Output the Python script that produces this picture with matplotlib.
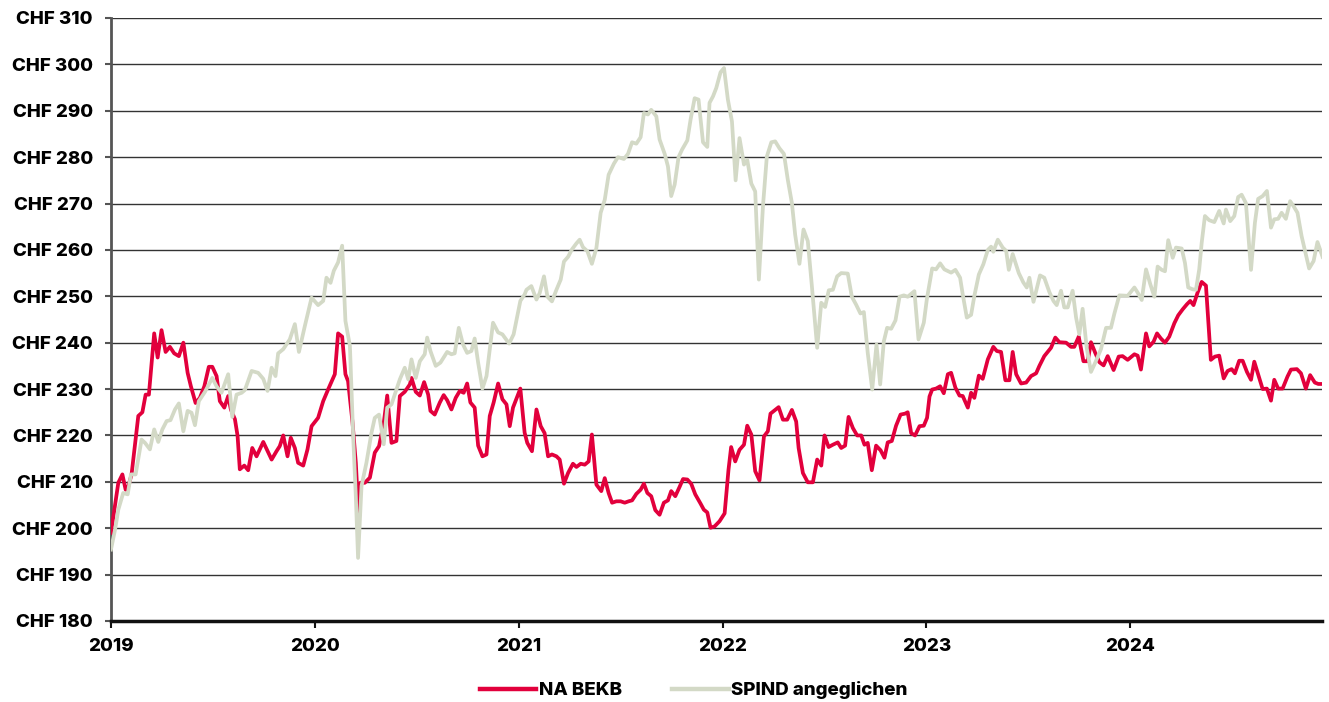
import matplotlib.pyplot as plt
import numpy as np

plt.rcParams['font.family'] = ['Inter', 'DejaVu Sans']

# NA BEKB (decimal years, CHF)
bekb_x = [2019.000, 2019.036, 2019.056, 2019.072, 2019.085, 2019.101, 2019.134, 2019.154, 2019.170, 2019.186,
          2019.212, 2019.229, 2019.248, 2019.268, 2019.289, 2019.310, 2019.333, 2019.355, 2019.376, 2019.392,
          2019.415, 2019.436, 2019.458, 2019.480, 2019.497, 2019.518, 2019.534, 2019.556, 2019.575, 2019.588,
          2019.608, 2019.621, 2019.632, 2019.654, 2019.673, 2019.693, 2019.714, 2019.747, 2019.788, 2019.812,
          2019.828, 2019.845, 2019.866, 2019.882, 2019.902, 2019.918, 2019.943, 2019.964, 2019.984, 2020.016,
          2020.041, 2020.065, 2020.098, 2020.114, 2020.134, 2020.150, 2020.163, 2020.185, 2020.201, 2020.214,
          2020.224, 2020.245, 2020.270, 2020.294, 2020.315, 2020.338, 2020.355, 2020.376, 2020.400, 2020.417,
          2020.441, 2020.466, 2020.474, 2020.495, 2020.515, 2020.536, 2020.556, 2020.567, 2020.588, 2020.613,
          2020.632, 2020.649, 2020.670, 2020.691, 2020.711, 2020.730, 2020.747, 2020.763, 2020.784, 2020.801,
          2020.822, 2020.842, 2020.858, 2020.877, 2020.899, 2020.920, 2020.940, 2020.956, 2020.972, 2021.008,
          2021.029, 2021.042, 2021.065, 2021.087, 2021.108, 2021.127, 2021.144, 2021.163, 2021.185, 2021.201,
          2021.222, 2021.242, 2021.266, 2021.283, 2021.304, 2021.324, 2021.343, 2021.359, 2021.381, 2021.405,
          2021.422, 2021.441, 2021.458, 2021.479, 2021.500, 2021.520, 2021.539, 2021.556, 2021.577, 2021.598,
          2021.614, 2021.631, 2021.650, 2021.670, 2021.691, 2021.712, 2021.732, 2021.748, 2021.768, 2021.789,
          2021.806, 2021.827, 2021.846, 2021.866, 2021.892, 2021.908, 2021.925, 2021.941, 2021.961, 2021.985,
          2022.010, 2022.029, 2022.042, 2022.062, 2022.083, 2022.105, 2022.121, 2022.141, 2022.160, 2022.181,
          2022.203, 2022.222, 2022.235, 2022.255, 2022.275, 2022.296, 2022.317, 2022.340, 2022.361, 2022.373,
          2022.394, 2022.418, 2022.443, 2022.464, 2022.484, 2022.500, 2022.520, 2022.541, 2022.565, 2022.582,
          2022.601, 2022.618, 2022.639, 2022.660, 2022.680, 2022.696, 2022.712, 2022.732, 2022.753, 2022.775,
          2022.794, 2022.810, 2022.830, 2022.851, 2022.873, 2022.895, 2022.908, 2022.925, 2022.944, 2022.966,
          2022.987, 2023.003, 2023.015, 2023.028, 2023.047, 2023.067, 2023.085, 2023.105, 2023.121, 2023.142,
          2023.162, 2023.178, 2023.203, 2023.219, 2023.235, 2023.257, 2023.276, 2023.301, 2023.328, 2023.345,
          2023.366, 2023.387, 2023.407, 2023.423, 2023.440, 2023.464, 2023.489, 2023.513, 2023.538, 2023.554,
          2023.578, 2023.611, 2023.632, 2023.652, 2023.685, 2023.709, 2023.725, 2023.747, 2023.770, 2023.791,
          2023.807, 2023.828, 2023.848, 2023.869, 2023.889, 2023.918, 2023.943, 2023.962, 2023.987, 2024.020,
          2024.036, 2024.052, 2024.077, 2024.093, 2024.114, 2024.131, 2024.150, 2024.170, 2024.191, 2024.216,
          2024.235, 2024.257, 2024.278, 2024.294, 2024.310, 2024.330, 2024.350, 2024.371, 2024.382, 2024.395,
          2024.415, 2024.436, 2024.458, 2024.477, 2024.497, 2024.513, 2024.534, 2024.551, 2024.572, 2024.592,
          2024.608, 2024.627, 2024.649, 2024.670, 2024.690, 2024.706, 2024.725, 2024.747, 2024.771, 2024.788,
          2024.817, 2024.837, 2024.861, 2024.882, 2024.905, 2024.922, 2024.943]
bekb_y = [199.0, 209.8, 211.6, 208.3, 209.0, 211.6, 224.2, 225.0, 228.8, 228.8,
          242.0, 236.8, 242.7, 238.0, 239.1, 237.7, 237.1, 240.0, 233.5, 230.6,
          227.0, 228.1, 230.6, 234.8, 234.8, 232.8, 227.4, 226.0, 228.5, 225.6,
          223.5, 219.9, 212.7, 213.5, 212.5, 217.3, 215.5, 218.6, 214.8, 216.6,
          217.7, 220.0, 215.5, 219.5, 217.3, 214.1, 213.5, 217.0, 222.0, 223.8,
          227.4, 229.9, 233.2, 242.0, 241.3, 233.2, 231.7, 222.7, 214.1, 202.9,
          209.8, 209.8, 210.9, 216.3, 217.7, 222.7, 228.6, 218.4, 218.8, 228.5,
          229.4, 231.0, 232.4, 229.4, 228.6, 231.5, 228.8, 225.3, 224.5, 227.1,
          228.7, 227.6, 225.6, 228.1, 229.6, 229.2, 231.2, 227.1, 226.0, 217.8,
          215.5, 215.9, 224.2, 227.1, 231.2, 227.8, 226.7, 222.0, 226.0, 230.1,
          220.6, 218.4, 216.6, 225.6, 222.0, 220.5, 215.5, 215.9, 215.5, 214.8,
          209.6, 211.9, 213.9, 213.2, 213.9, 213.7, 214.4, 220.2, 209.4, 208.0,
          210.8, 207.6, 205.5, 205.8, 205.8, 205.5, 205.8, 206.0, 207.4, 208.3,
          209.6, 207.6, 206.9, 203.9, 202.9, 205.5, 206.0, 208.0, 206.9, 208.9,
          210.6, 210.5, 209.6, 207.3, 205.3, 204.0, 203.4, 200.1, 200.4, 201.5,
          203.2, 212.6, 217.5, 214.4, 216.9, 218.0, 222.1, 220.2, 212.3, 210.3,
          219.8, 220.9, 224.7, 225.4, 226.1, 223.4, 223.4, 225.5, 223.0, 217.3,
          211.9, 209.9, 209.9, 214.8, 213.5, 220.0, 217.5, 218.0, 218.5, 217.3,
          217.8, 224.0, 221.6, 220.0, 220.0, 218.0, 218.4, 212.5, 217.8, 216.8,
          215.2, 218.5, 218.8, 222.1, 224.5, 224.7, 225.0, 220.5, 220.0, 222.0,
          222.1, 223.8, 228.4, 229.9, 230.1, 230.6, 229.1, 233.2, 233.5, 230.3,
          228.6, 228.5, 226.0, 229.2, 228.1, 232.9, 232.2, 236.4, 239.1, 238.2,
          238.0, 231.9, 231.9, 238.0, 233.2, 231.2, 231.4, 232.8, 233.4, 235.0,
          237.1, 238.9, 241.1, 240.1, 240.0, 239.1, 239.1, 241.3, 236.0, 236.0,
          240.1, 237.8, 235.8, 235.1, 237.1, 234.1, 237.0, 237.1, 236.3, 237.5,
          237.2, 234.2, 242.0, 239.2, 240.2, 242.0, 240.9, 240.0, 241.3, 244.2,
          245.9, 247.2, 248.3, 249.0, 248.1, 250.8, 253.1, 252.3, 245.1, 236.3,
          237.0, 237.2, 232.3, 233.9, 234.3, 233.4, 236.1, 236.1, 233.7, 232.0,
          235.9, 233.2, 230.0, 230.1, 227.5, 232.0, 230.1, 230.1, 232.7, 234.2,
          234.3, 233.4, 230.1, 233.0, 231.4, 231.1, 231.1]

# SPIND angeglichen
spind_x = [2019.000, 2019.020, 2019.036, 2019.060, 2019.082, 2019.098, 2019.121, 2019.150, 2019.167, 2019.191,
           2019.212, 2019.232, 2019.252, 2019.273, 2019.292, 2019.314, 2019.333, 2019.355, 2019.376, 2019.395,
           2019.412, 2019.431, 2019.461, 2019.497, 2019.518, 2019.542, 2019.575, 2019.595, 2019.616, 2019.641,
           2019.657, 2019.690, 2019.722, 2019.747, 2019.768, 2019.788, 2019.807, 2019.820, 2019.845, 2019.877,
           2019.902, 2019.922, 2019.951, 2019.984, 2020.016, 2020.041, 2020.057, 2020.077, 2020.093, 2020.114,
           2020.134, 2020.150, 2020.172, 2020.188, 2020.201, 2020.212, 2020.229, 2020.253, 2020.278, 2020.294,
           2020.315, 2020.338, 2020.355, 2020.376, 2020.400, 2020.417, 2020.441, 2020.458, 2020.474, 2020.495,
           2020.515, 2020.539, 2020.551, 2020.567, 2020.593, 2020.616, 2020.649, 2020.670, 2020.686, 2020.706,
           2020.727, 2020.747, 2020.768, 2020.784, 2020.801, 2020.822, 2020.842, 2020.874, 2020.899, 2020.920,
           2020.953, 2020.975, 2021.008, 2021.029, 2021.038, 2021.062, 2021.087, 2021.103, 2021.124, 2021.141,
           2021.163, 2021.185, 2021.206, 2021.222, 2021.242, 2021.261, 2021.283, 2021.299, 2021.315, 2021.337,
           2021.359, 2021.381, 2021.402, 2021.422, 2021.441, 2021.467, 2021.487, 2021.516, 2021.536, 2021.556,
           2021.577, 2021.598, 2021.614, 2021.634, 2021.650, 2021.675, 2021.691, 2021.716, 2021.732, 2021.748,
           2021.765, 2021.784, 2021.801, 2021.827, 2021.843, 2021.863, 2021.882, 2021.904, 2021.925, 2021.936,
           2021.953, 2021.969, 2021.990, 2022.007, 2022.026, 2022.046, 2022.064, 2022.083, 2022.105, 2022.121,
           2022.141, 2022.160, 2022.178, 2022.198, 2022.217, 2022.239, 2022.258, 2022.279, 2022.301, 2022.320,
           2022.340, 2022.356, 2022.377, 2022.397, 2022.418, 2022.438, 2022.464, 2022.484, 2022.503, 2022.521,
           2022.541, 2022.562, 2022.582, 2022.614, 2022.634, 2022.655, 2022.676, 2022.693, 2022.712, 2022.734,
           2022.755, 2022.773, 2022.791, 2022.807, 2022.827, 2022.848, 2022.868, 2022.889, 2022.908, 2022.941,
           2022.961, 2022.987, 2023.002, 2023.028, 2023.047, 2023.067, 2023.088, 2023.121, 2023.142, 2023.165,
           2023.178, 2023.198, 2023.219, 2023.235, 2023.257, 2023.279, 2023.301, 2023.317, 2023.328, 2023.350,
           2023.374, 2023.391, 2023.404, 2023.423, 2023.453, 2023.475, 2023.492, 2023.505, 2023.525, 2023.546,
           2023.557, 2023.578, 2023.603, 2023.623, 2023.639, 2023.660, 2023.676, 2023.693, 2023.717, 2023.734,
           2023.750, 2023.766, 2023.786, 2023.807, 2023.828, 2023.856, 2023.881, 2023.905, 2023.922, 2023.946,
           2023.987, 2024.020, 2024.036, 2024.056, 2024.077, 2024.098, 2024.118, 2024.134, 2024.154, 2024.170,
           2024.186, 2024.208, 2024.224, 2024.252, 2024.268, 2024.284, 2024.306, 2024.322, 2024.338, 2024.350,
           2024.366, 2024.387, 2024.412, 2024.436, 2024.458, 2024.469, 2024.490, 2024.510, 2024.529, 2024.546,
           2024.567, 2024.592, 2024.611, 2024.627, 2024.649, 2024.670, 2024.690, 2024.706, 2024.725, 2024.742,
           2024.763, 2024.784, 2024.801, 2024.820, 2024.840, 2024.861, 2024.877, 2024.899, 2024.918, 2024.943]
spind_y = [195.4, 199.7, 204.0, 207.6, 207.3, 211.6, 211.6, 219.1, 218.4, 217.0,
           221.3, 218.6, 221.3, 223.1, 223.3, 225.6, 226.9, 220.9, 225.3, 224.9,
           222.2, 227.4, 229.4, 232.4, 230.6, 229.2, 233.2, 224.0, 228.8, 229.2,
           229.8, 233.9, 233.5, 232.2, 229.6, 234.6, 232.8, 237.7, 238.6, 240.7,
           244.0, 238.0, 243.6, 249.7, 248.1, 249.0, 254.0, 252.9, 255.5, 257.3,
           260.9, 244.7, 239.3, 219.9, 206.9, 193.6, 209.1, 214.1, 220.6, 223.8,
           224.5, 218.1, 226.0, 226.7, 229.9, 232.1, 234.6, 232.1, 236.4, 232.4,
           236.0, 237.5, 241.1, 238.2, 235.0, 235.7, 238.0, 237.5, 237.7, 243.2,
           239.6, 237.8, 238.2, 240.9, 235.7, 230.1, 232.8, 244.3, 242.2, 241.8,
           239.8, 241.8, 249.0, 250.4, 251.4, 252.2, 249.3, 250.7, 254.3, 249.9,
           248.9, 251.4, 253.6, 257.5, 258.5, 260.1, 261.4, 262.2, 260.6, 259.7,
           257.0, 260.4, 268.0, 270.8, 276.2, 278.6, 280.0, 279.6, 280.7, 283.2,
           282.9, 284.3, 289.5, 289.2, 290.2, 288.8, 283.8, 280.7, 278.0, 271.6,
           274.1, 280.0, 281.6, 283.6, 288.1, 292.7, 292.4, 283.2, 282.2, 291.7,
           293.1, 294.9, 298.3, 299.2, 292.4, 287.7, 275.0, 284.1, 278.4, 279.4,
           274.3, 272.6, 253.6, 269.4, 280.1, 283.2, 283.4, 281.9, 280.7, 275.1,
           270.1, 263.3, 257.0, 264.4, 261.9, 252.2, 238.9, 248.6, 247.7, 251.3,
           251.4, 254.3, 255.0, 254.9, 249.9, 248.2, 246.3, 246.6, 237.8, 229.9,
           239.6, 231.0, 240.3, 243.2, 243.0, 244.8, 249.9, 250.2, 249.9, 251.1,
           240.7, 244.3, 249.4, 256.0, 255.8, 257.1, 255.8, 255.1, 255.7, 254.0,
           250.4, 245.4, 246.0, 250.1, 254.7, 256.9, 260.0, 260.7, 259.6, 262.2,
           260.5, 259.8, 255.7, 259.1, 255.0, 253.0, 251.9, 254.0, 248.8, 252.6,
           254.5, 254.0, 250.9, 249.0, 248.1, 251.2, 247.6, 247.6, 251.2, 245.4,
           241.8, 247.3, 238.9, 233.7, 235.7, 238.6, 243.2, 243.2, 246.3, 250.2,
           250.1, 251.9, 250.8, 249.2, 255.8, 252.6, 249.9, 256.4, 255.7, 255.4,
           262.1, 258.3, 260.5, 260.3, 257.2, 251.9, 251.5, 251.4, 255.8, 261.5,
           267.3, 266.4, 266.0, 268.4, 265.7, 268.7, 266.2, 267.3, 271.4, 271.9,
           270.1, 255.7, 265.8, 271.0, 271.6, 272.7, 264.8, 266.6, 266.7, 268.0,
           266.7, 270.5, 269.4, 268.0, 263.0, 259.0, 256.0, 257.6, 261.7, 258.5]

years = [2019, 2020, 2021, 2022, 2023, 2024]
yticks = np.arange(180, 311, 10)

fig = plt.figure(figsize=(13.29, 7.02), dpi=100)
ax = fig.add_axes([0.0835, 0.1154, 0.9112, 0.859])

ax.plot(bekb_x, bekb_y, color='#E2003C', lw=2.7, label='NA BEKB', zorder=3, solid_joinstyle='round')
ax.plot(spind_x, spind_y, color='#D3D9C6', lw=2.7, label='SPIND angeglichen', zorder=3, solid_joinstyle='round')

ax.set_xlim(2019, 2024.94)
ax.set_ylim(180, 310)
ax.set_xticks(years)
ax.set_xticklabels([str(y) for y in years], fontsize=13.5, fontweight='heavy')
ax.set_yticks(yticks)
ax.set_yticklabels(['CHF %d' % v for v in yticks], fontsize=13.5, fontweight='heavy')

ax.grid(axis='y', color='#333333', lw=1.0, zorder=1)
ax.grid(axis='x', visible=False)
ax.set_axisbelow(True)

for s in ['top', 'right']:
    ax.spines[s].set_visible(False)
ax.spines['left'].set_color('#555555')
ax.spines['left'].set_linewidth(2)
ax.spines['bottom'].set_color('#111111')
ax.spines['bottom'].set_linewidth(2.5)
ax.spines['bottom'].set_zorder(4)
ax.tick_params(axis='y', length=4, width=1.5, color='#555555', pad=9)
ax.tick_params(axis='x', length=5, width=1.5, color='#111111', pad=7)

leg = fig.legend(loc='lower center', bbox_to_anchor=(0.522, -0.02), ncol=2, frameon=False,
                 prop={'size': 13.5, 'weight': 'heavy'}, handlelength=3.0, handletextpad=0.15,
                 columnspacing=2.7)
for line in leg.get_lines():
    line.set_linewidth(3.2)

plt.savefig('out.png', dpi=100)
